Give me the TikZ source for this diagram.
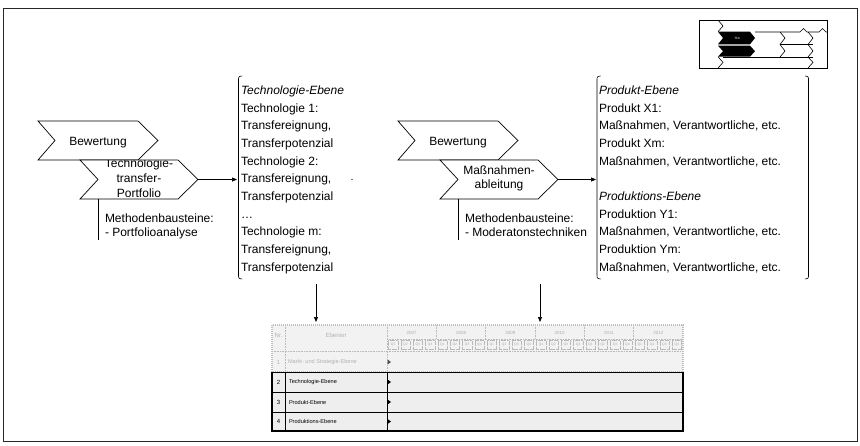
\documentclass[tikz,border=0pt]{standalone}
\usepackage{fontspec}
\setmainfont{Liberation Sans}
\usetikzlibrary{arrows.meta}
\begin{document}
\begin{tikzpicture}[x=1pt,y=-1pt,
  every node/.style={inner sep=0pt,outer sep=0pt},
  txt/.style={font=\fontsize{12}{14}\selectfont,anchor=base west},
  ctxt/.style={font=\fontsize{12}{14}\selectfont,anchor=base},
  chev/.style={draw=black,line width=0.7pt,fill=white,line join=miter},
  conn/.style={line width=0.7pt,-{Triangle[length=5pt,width=4pt]}},
  brk/.style={line width=0.6pt},
  hdrline/.style={gray!55,line width=0.5pt,dash pattern=on 0.8pt off 0.8pt},
  hdrframe/.style={gray!50,line width=1.6pt,dash pattern=on 1pt off 1pt},
  qbox/.style={gray!55,line width=0.4pt,dash pattern=on 0.6pt off 0.6pt},
  yr/.style={font=\fontsize{4.5}{5}\selectfont,text=gray!65},
  qlab/.style={font=\fontsize{3.4}{4}\selectfont,text=gray!65},
  tabt/.style={font=\fontsize{6}{7}\selectfont},
  tabl/.style={font=\fontsize{5.6}{6}\selectfont,anchor=west},
  marker/.style={fill=black}]
\useasboundingbox (0,0) rectangle (860,445);
% outer frame
\draw[line width=0.8pt,black!85] (3,8.5) rectangle (857,441);

% ---------- small roadmap icon ----------
\draw[line width=0.8pt] (699,20) rectangle (827,68);
\fill (718,31.7) -- (750,31.7) -- (755,38) -- (750,44.3) -- (718,44.3) -- (723,38) -- cycle;
\fill (718,45.7) -- (750,45.7) -- (755,51.2) -- (750,56.7) -- (718,56.7) -- (723,51.2) -- cycle;
\node[font=\fontsize{3}{3}\selectfont,text=white] (tfa) at (737,38) {TFA};
\draw[line width=0.6pt] (718,20) -- (723,26) -- (718,31.7);
\draw[line width=0.6pt] (718,56.7) -- (723,62.4) -- (718,68);
\draw[line width=0.6pt] (755,32) -- (800,32) -- (803.5,28.5) -- (807,32) -- (819,32) -- (822.5,28.5) -- (826,32) -- (827,32);
\draw[line width=0.6pt] (780,32) -- (785,38) -- (780,44.5) -- (785,51) -- (780,57);
\draw[line width=0.6pt] (780,44.5) -- (813,44.5);
\draw[line width=0.6pt] (723,57) -- (813,57);
\draw[line width=0.6pt] (808,32) -- (813,38) -- (808,44.5) -- (813,51) -- (808,57) -- (813,62.4) -- (808,68);

% ---------- left process group ----------
\draw[chev] (38,121) -- (138,121) -- (158,140.5) -- (138,160) -- (38,160) -- (55,140.5) -- cycle;
\node[ctxt] (bew1) at (98,145.3) {Bewertung};
\draw[chev] (80,160) -- (178,160) -- (198,179.5) -- (178,199) -- (80,199) -- (98,179.5) -- cycle;
\begin{scope}
  \clip (80,160) -- (178,160) -- (198,179.5) -- (178,199) -- (80,199) -- (98,179.5) -- cycle;
  \node[ctxt] (ttp1) at (139,167) {Technologie-};
  \node[ctxt] (ttp2) at (139,182) {transfer-};
  \node[ctxt] (ttp3) at (139,197) {Portfolio};
\end{scope}
\coordinate (tip1) at (198,179.5);
\coordinate (m1top) at (98,199);
\coordinate (m1bot) at (98,240);
\draw[line width=0.7pt] (m1top) -- (m1bot);
\node[txt] (meth1a) at (105,222.5) {Methodenbausteine:};
\node[txt] (meth1b) at (105,236) {- Portfolioanalyse};

% ---------- technology bracket ----------
\draw[brk] (242,76) .. controls (238.5,76.5) .. (238.5,81) -- (238.5,274) .. controls (238.5,278.5) .. (242,279);
\fill (352,179.5) circle (0.7);
\coordinate (techbr) at (237,179.5);
\foreach \s [count=\i from 0] in {{\textit{Technologie-Ebene}},{Technologie 1:},{Transfereignung,},{Transferpotenzial},{Technologie 2:},{Transfereignung,},{Transferpotenzial},{…},{Technologie m:},{Transfereignung,},{Transferpotenzial}}
  \node[txt] (tech\i) at (241,{94.3+17.7*\i}) {\s};
\draw[conn] (tip1) -- (techbr);

% ---------- middle process group ----------
\draw[chev] (398,121) -- (498,121) -- (518,140.5) -- (498,160) -- (398,160) -- (415,140.5) -- cycle;
\node[ctxt] (bew2) at (458,145.3) {Bewertung};
\draw[chev] (440,160) -- (538,160) -- (558,179.5) -- (538,199) -- (440,199) -- (458,179.5) -- cycle;
\node[ctxt] (mab1) at (499,174.5) {Maßnahmen-};
\node[ctxt] (mab2) at (499,188) {ableitung};
\coordinate (tip2) at (558,179.5);
\coordinate (m2top) at (458,199);
\coordinate (m2bot) at (458,240);
\draw[line width=0.7pt] (m2top) -- (m2bot);
\node[txt] (meth2a) at (465,222.5) {Methodenbausteine:};
\node[txt] (meth2b) at (465,236) {- Moderatonstechniken};

% ---------- product / production bracket ----------
\draw[brk] (600.5,76) .. controls (597,76.5) .. (597,81) -- (597,274) .. controls (597,278.5) .. (600.5,279);
\draw[brk] (805,76) .. controls (808.5,76.5) .. (808.5,81) -- (808.5,274) .. controls (808.5,278.5) .. (805,279);
\coordinate (prodbr) at (596,179.5);
\foreach \s [count=\i from 0] in {{\textit{Produkt-Ebene}},{Produkt X1:},{Maßnahmen, Verantwortliche, etc.},{Produkt Xm:},{Maßnahmen, Verantwortliche, etc.},{},{\textit{Produktions-Ebene}},{Produktion Y1:},{Maßnahmen, Verantwortliche, etc.},{Produktion Ym:},{Maßnahmen, Verantwortliche, etc.}}
  \node[txt] (prod\i) at (599,{94.3+17.7*\i}) {\s};
\draw[conn] (tip2) -- (prodbr);

% ---------- arrows down to the roadmap table ----------
\coordinate (techdown) at (316,284);
\coordinate (tab1) at (316,322);
\coordinate (proddown) at (540,284);
\coordinate (tab2) at (540,322);
\draw[conn] (techdown) -- (tab1);
\draw[conn] (proddown) -- (tab2);

% ---------- roadmap table ----------
% header and first row (light, dotted)
\fill[gray!10] (272,325) rectangle (683,372);
\draw[hdrline] (285,325) -- (285,372);
\draw[hdrline] (387,325) -- (387,372);
\draw[hdrline] (387,339) -- (683,339);
\draw[hdrline] (272,351) -- (683,351);
\foreach \k in {1,...,5}
  \draw[hdrline] ({387+49.333*\k},325) -- ({387+49.333*\k},339);
\foreach \y [count=\k from 0] in {2007,2008,2009,2010,2011,2012}
  \node[yr] (yr\k) at ({411.67+49.333*\k},332.5) {\y};
\foreach \k in {0,...,23}{
  \pgfmathtruncatemacro\q{mod(\k,4)+1}
  \draw[qbox] ({387+12.333*\k+1.4},340.6) rectangle ({387+12.333*(\k+1)-1.4},349.4);
  \node[qlab] (q\k) at ({393.17+12.333*\k},345) {Q\q};
}
\draw[hdrframe] (272,325) rectangle (683,372);
\node[tabt,text=gray!60] (hnr) at (278.5,335) {Nr.};
\node[tabt,text=gray!60] (hebenen) at (336,335) {Ebenen};
\node[tabt,text=gray!60] (r1nr) at (278.5,362) {1};
\node[tabl,text=gray!60] (r1) at (288,362) {Markt- und Strategie-Ebene};
\fill[black!70] (387.5,359.5) -- (391,362) -- (387.5,364.5) -- cycle;

% rows 2 to 4 (solid)
\fill[gray!13] (272,372) rectangle (683,431);
\draw[line width=1pt] (272,392) -- (683,392);
\draw[line width=1pt] (272,412) -- (683,412);
\draw[line width=0.8pt] (285,372) -- (285,431);
\draw[line width=0.8pt] (387,372) -- (387,431);
\draw[line width=1pt] (272,372) -- (683,372);
\draw[line width=1.8pt] (272,372) -- (272,431) -- (683,431) -- (683,372);
\node[tabt] (r2nr) at (278.5,382) {2};
\node[tabl] (r2) at (289,382) {Technologie-Ebene};
\node[tabt] (r3nr) at (278.5,402) {3};
\node[tabl] (r3) at (289,402) {Produkt-Ebene};
\node[tabt] (r4nr) at (278.5,421.5) {4};
\node[tabl] (r4) at (289,421.5) {Produktions-Ebene};
\foreach \yy in {382,402,421.5}
  \fill[marker] (387.5,\yy-2.5) -- (391,\yy) -- (387.5,\yy+2.5) -- cycle;
\end{tikzpicture}
\end{document}
